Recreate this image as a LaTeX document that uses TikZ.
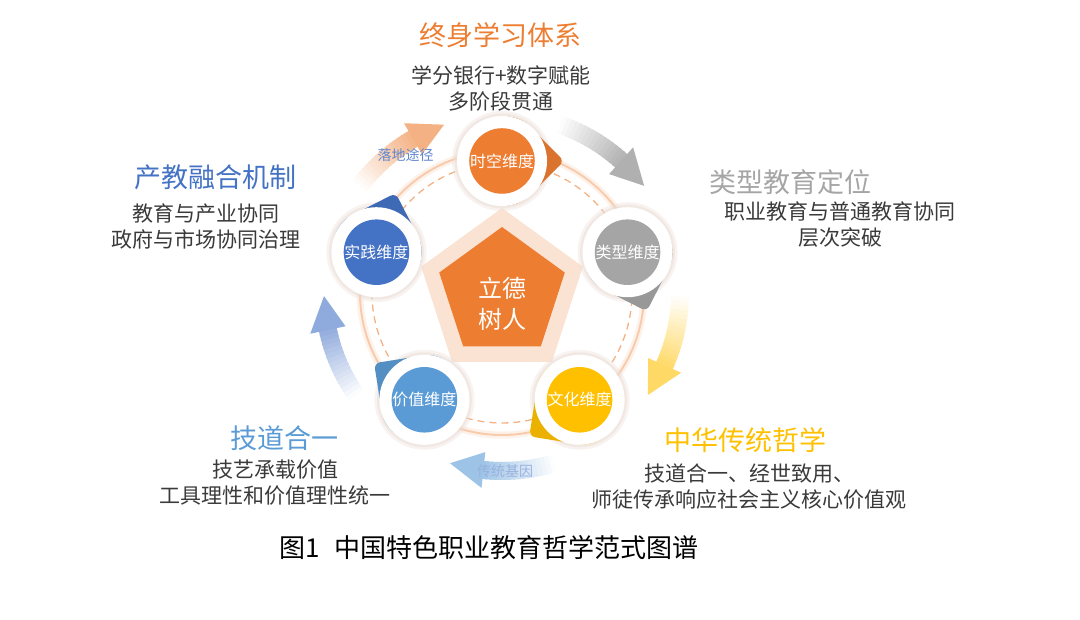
\documentclass[tikz,border=0pt]{standalone}
\usepackage{fontspec}
\usepackage{tikz}
\usetikzlibrary{shapes.geometric,calc,positioning}
\newfontfamily\cjk{Noto Sans CJK SC}

\definecolor{ofcorange}{HTML}{ED7D31}
\definecolor{ofcgray}{HTML}{A5A5A5}
\definecolor{ofcgold}{HTML}{FFC000}
\definecolor{ofcblue}{HTML}{5B9BD5}
\definecolor{ofcdblue}{HTML}{4472C4}
\definecolor{bodygray}{HTML}{3A3A3A}
\definecolor{pentpale}{HTML}{FBE3D3}
\definecolor{ringpale}{HTML}{F8CBAD}
\definecolor{ringdash}{HTML}{F4B183}
\definecolor{arrorange}{HTML}{F4B183}
\definecolor{arrgray}{HTML}{B0B0B0}
\definecolor{arrgold}{HTML}{FFD966}
\definecolor{arrsky}{HTML}{9DC3E6}
\definecolor{arrblue}{HTML}{8FAADC}
\definecolor{glowcol}{HTML}{EADDD6}

% ring arrow: colour, tail angle, tip angle (clockwise)
\newcommand{\ringarrow}[3]{%
  \pgfmathsetmacro{\hb}{#3+11}
  \foreach \i in {0,...,15}{
    \pgfmathsetmacro{\angA}{#2-(#2-\hb)*\i/16}
    \pgfmathsetmacro{\angB}{#2-(#2-\hb)*(\i+1.4)/16}
    \pgfmathtruncatemacro{\pc}{4+\i*6}
    \fill[#1!\pc!white] ($(ctr)+(\angA:169)$) arc[start angle=\angA, end angle=\angB, radius=169]
      -- ($(ctr)+(\angB:187)$) arc[start angle=\angB, end angle=\angA, radius=187] -- cycle;
  }
  \fill[#1] ($(ctr)+(\hb:160)$) -- ($(ctr)+(#3:178)$) -- ($(ctr)+(\hb:196)$) -- cycle;
}

\begin{document}
\begin{tikzpicture}[x=1pt,y=1pt,
    dimdisk/.style={circle, minimum size=64pt, inner sep=0pt, text=white,
      font=\cjk\fontsize{16}{16}\selectfont},
    coretext/.style={text=white, align=center, font=\cjk\fontsize{24}{31}\selectfont},
    headtext/.style={font=\cjk\fontsize{27}{30}\selectfont},
    bodytext/.style={text=bodygray, align=center, font=\cjk\fontsize{21}{26}\selectfont},
    pathtext/.style={font=\cjk\fontsize{14}{14}\selectfont}]
  \useasboundingbox (0,0) rectangle (1080,620);
  \coordinate (ctr) at (502,327);

  % outer cycle arrows
  \ringarrow{arrorange}{143}{109}
  \ringarrow{arrgray}{71}{37}
  \ringarrow{arrgold}{-1}{-35}
  \ringarrow{arrsky}{-73}{-107}
  \ringarrow{arrblue}{-145}{-179}

  \node[pathtext, text=ofcdblue!85] (lbl-ld) at ($(ctr)+(125:168)$) {落地途径};
  \node[pathtext, text=ofcdblue!55] (lbl-ct) at ($(ctr)+(-89:178)$) {传统基因};

  % rings
  \draw[ringpale, line width=7pt, opacity=0.25] (ctr) circle (142);
  \draw[ringpale, line width=2pt] (ctr) circle (142);
  \draw[ringdash, line width=1.3pt, dash pattern=on 7pt off 5pt] (ctr) circle (130);

  % centre pentagon
  \node[regular polygon, regular polygon sides=5, minimum size=170pt, inner sep=0pt,
        fill=pentpale] (core-bg) at (ctr) {};
  \node[regular polygon, regular polygon sides=5, minimum size=132pt, inner sep=0pt,
        fill=ofcorange] (core-in) at (ctr) {};
  \node[coretext] (core) at ($(ctr)+(0,-11)$) {立德\\树人};

  % dimension disks (tab points clockwise)
  \foreach \ang/\nm/\col/\txt in {90/sk/ofcorange/时空维度, 18/lx/ofcgray/类型维度,
      -54/wh/ofcgold/文化维度, -126/jz/ofcblue/价值维度, 162/sj/ofcdblue/实践维度}{
    \coordinate (\nm) at ($(ctr)+(\ang:132)$);
    \fill[glowcol, opacity=0.35] (\nm) circle (50);
    \fill[glowcol, opacity=0.5] (\nm) circle (47.5);
    \begin{scope}[shift={(\nm)}, rotate=\ang-90]
      \fill[\col!92!black, rounded corners=6pt] (45:44) arc[start angle=45, end angle=315, radius=44]
        -- (62.2,0) -- cycle;
    \end{scope}
    \fill[white] (\nm) circle (45);
    \node[dimdisk, fill=\col] (\nm-in) at (\nm) {\txt};
  }

  % outer texts
  \node[headtext, text=ofcorange] (ttl-life) at (500,585) {终身学习体系};
  \node[bodytext] (txt-life) at (501,532) {学分银行+数字赋能\\多阶段贯通};

  \node[headtext, text=ofcgray] (ttl-type) at (790,438) {类型教育定位};
  \node[bodytext] (txt-type) at (840,395) {职业教育与普通教育协同\\层次突破};

  \node[headtext, text=ofcgold] (ttl-cult) at (745,180) {中华传统哲学};
  \node[bodytext] (txt-cult) at (749,133) {技道合一、经世致用、\\师徒传承响应社会主义核心价值观};

  \node[headtext, text=ofcdblue] (ttl-ind) at (215,443) {产教融合机制};
  \node[bodytext] (txt-ind) at (206,393) {教育与产业协同\\政府与市场协同治理};

  \node[headtext, text=ofcblue] (ttl-skill) at (284,182) {技道合一};
  \node[bodytext] (txt-skill) at (275,137) {技艺承载价值\\工具理性和价值理性统一};

  % caption
  \node[font=\cjk\fontsize{26}{28}\selectfont, text=black] (caption) at (489,72)
    {图1\hspace{14pt}中国特色职业教育哲学范式图谱};
\end{tikzpicture}
\end{document}
